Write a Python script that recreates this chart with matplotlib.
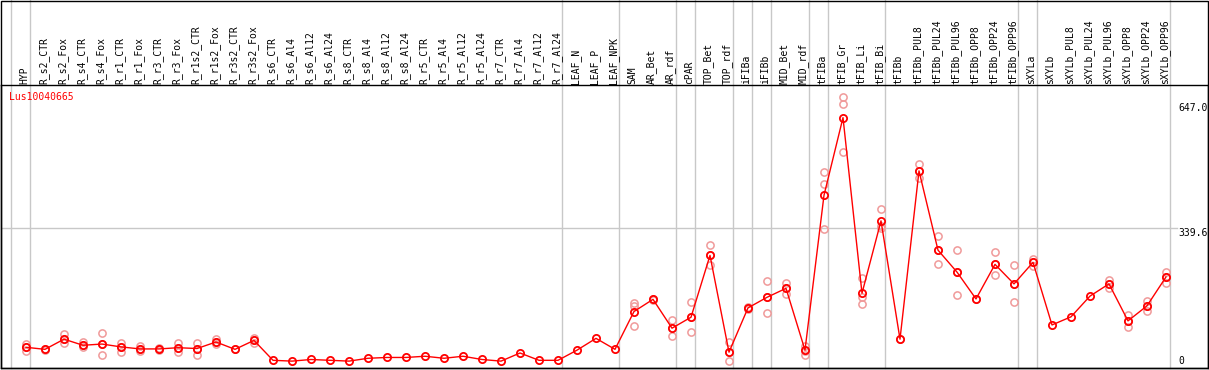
import matplotlib
matplotlib.use('Agg')
import matplotlib.pyplot as plt
import matplotlib.transforms as mtransforms
from matplotlib.patches import Rectangle

categories = [
    'HYP', 'R_s2_CTR', 'R_s2_Fox', 'R_s4_CTR', 'R_s4_Fox', 'R_r1_CTR', 'R_r1_Fox',
    'R_r3_CTR', 'R_r3_Fox', 'R_r1s2_CTR', 'R_r1s2_Fox', 'R_r3s2_CTR', 'R_r3s2_Fox',
    'R_s6_CTR', 'R_s6_Al4', 'R_s6_Al12', 'R_s6_Al24', 'R_s8_CTR', 'R_s8_Al4',
    'R_s8_Al12', 'R_s8_Al24', 'R_r5_CTR', 'R_r5_Al4', 'R_r5_Al12', 'R_r5_Al24',
    'R_r7_CTR', 'R_r7_Al4', 'R_r7_Al12', 'R_r7_Al24', 'LEAF_N', 'LEAF_P', 'LEAF_NPK',
    'SAM', 'AR_Bet', 'AR_rdf', 'cPAR', 'TOP_Bet', 'TOP_rdf', 'iFIBa', 'iFIBb',
    'MID_Bet', 'MID_rdf', 'tFIBa', 'tFIB_Gr', 'tFIB_Li', 'tFIB_Bi', 'tFIBb',
    'tFIBb_PUL8', 'tFIBb_PUL24', 'tFIBb_PUL96', 'tFIBb_OPP8', 'tFIBb_OPP24',
    'tFIBb_OPP96', 'sXYLa', 'sXYLb', 'sXYLb_PUL8', 'sXYLb_PUL24', 'sXYLb_PUL96',
    'sXYLb_OPP8', 'sXYLb_OPP24', 'sXYLb_OPP96',
]

means = [
    46, 41, 66, 51, 54, 47, 42, 42, 45, 43, 59, 41, 63,
    14, 12, 16, 14, 12, 19, 21, 21, 24, 19, 24, 16,
    12, 32, 14, 14, 39, 68, 41,
    134, 164, 93, 120, 272, 34, 143, 169, 191, 39,
    420, 611, 179, 357, 66,
    480, 285, 231, 165, 250, 202,
    255, 101, 121, 172, 202, 111, 148, 219,
]

replicates = [
    [53, 46, 38], [43, 39], [78, 66, 56], [58, 51, 46], [80, 54, 26], [57, 47, 35],
    [48, 42, 38], [44, 42, 40], [57, 45, 34], [57, 43, 28], [66, 59, 54], [41],
    [68, 63, 56],
    [], [], [], [], [], [], [], [], [], [], [], [], [], [], [], [], [], [], [],
    [154, 148, 98], [166, 162], [112, 93, 75], [157, 120, 83], [298, 272, 249],
    [58, 34, 12], [146, 140], [209, 170, 130], [205, 191, 177], [50, 38, 28],
    [477, 447, 336], [661, 644, 526], [217, 170, 152], [386, 345, 340], [66],
    [497, 480, 462], [320, 285, 251], [285, 231, 175], [165], [280, 250, 223],
    [249, 202, 157],
    [263, 255, 247], [], [], [], [212, 201, 191], [126, 111, 95], [161, 148, 135],
    [231, 219, 205],
]

# index of the last sample in each group, -1 is the left edge
group_ends = [-1, 0, 28, 31, 34, 35, 37, 38, 39, 41, 42, 45, 52, 53, 60]

y_ticks = [647.0, 339.6, 0]
y_tick_labels = ['647.0', '339.6', '0']
title = 'Lus10040665'

W, H = 1209, 370
plt.rcParams['font.family'] = ['DejaVu Sans Mono']
plt.rcParams['font.size'] = 7

fig = plt.figure(figsize=(W / 100, H / 100), dpi=100)
ax = fig.add_axes([1 / W, 1 - 368 / H, 1207 / W, 283 / H])
ax.set_xlim(-25 / 19, 1182 / 19)
ax.set_ylim((366 - 368) / 0.4065, (366 - 85) / 0.4065)
ax.set_xticks([])
ax.set_yticks([])
for s in ax.spines.values():
    s.set_color('black')
    s.set_linewidth(1)

fig.add_artist(Rectangle((1 / W, 1 - 368 / H), 1207 / W, 368 / H - 0.5 / H,
                         transform=fig.transFigure, fill=False, ec='black', lw=1))

trans = mtransforms.blended_transform_factory(ax.transData, ax.transAxes)
head = (283 + 85) / 283

for g in group_ends:
    ax.plot([g + 0.23, g + 0.23], [0, head], transform=trans, color='#c8c8c8',
            lw=1, clip_on=False, zorder=1)

ax.axhline(y_ticks[1], xmin=0, xmax=1176 / 1207, color='#c8c8c8', lw=1, zorder=1)

for i, lab in enumerate(categories):
    ax.text(i - 0.08, 1 + 1.5 / 283, lab, transform=trans, rotation=90,
            ha='center', va='bottom', color='black')

xs = list(range(len(categories)))
rx, ry = [], []
for i, reps in enumerate(replicates):
    for v in reps:
        rx.append(i)
        ry.append(v)
ax.plot(rx, ry, ls='none', marker='o', ms=5.2, mfc='none', mec='#f09a9a',
        mew=1.1, zorder=2)
ax.plot(xs, means, color='red', lw=1, zorder=3)
ax.plot(xs, means, ls='none', marker='o', ms=5.2, mfc='none', mec='red',
        mew=1.3, zorder=4)

xl = (1178 - 26) / 19
ax.text(xl, y_ticks[0], y_tick_labels[0], va='top', ha='left')
ax.text(xl, y_ticks[1], y_tick_labels[1], va='top', ha='left')
ax.text(xl, y_ticks[2], y_tick_labels[2], va='bottom', ha='left')

ax.text(8 / 1207, (368 - 97) / 283, title, transform=ax.transAxes, color='red',
        va='center', ha='left')

fig.savefig('out.png', dpi=100)
